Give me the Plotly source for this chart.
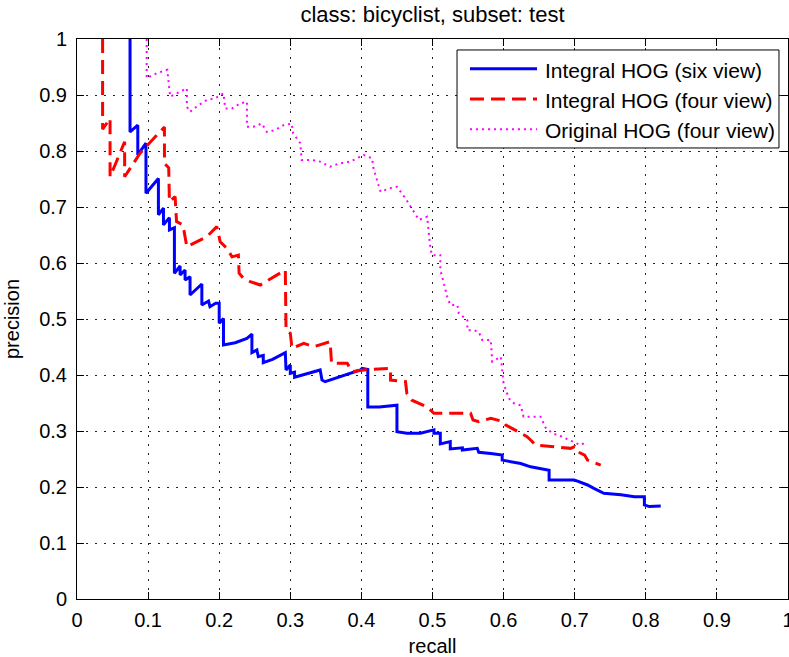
import plotly.graph_objects as go

# ---------------- data ----------------
six_recall = [0.0746, 0.0746, 0.0855, 0.0855, 0.097, 0.097, 0.1145, 0.1145, 0.1216, 0.1216,
              0.130, 0.130, 0.137, 0.137, 0.145, 0.145, 0.152, 0.152, 0.159, 0.159,
              0.1756, 0.1756, 0.185, 0.187, 0.195, 0.200, 0.200, 0.206, 0.206, 0.2225,
              0.239, 0.246, 0.246, 0.253, 0.255, 0.262, 0.262, 0.275, 0.293, 0.294,
              0.300, 0.300, 0.306, 0.306, 0.342, 0.3446, 0.349, 0.3986, 0.401, 0.409,
              0.409, 0.425, 0.450, 0.450, 0.464, 0.483, 0.502, 0.502, 0.511, 0.511,
              0.525, 0.525, 0.542, 0.542, 0.563, 0.565, 0.582, 0.598, 0.598, 0.624,
              0.638, 0.652, 0.664, 0.664, 0.699, 0.705, 0.718, 0.727, 0.741, 0.765,
              0.784, 0.798, 0.798, 0.805, 0.821]
six_precision = [1.000, 0.834, 0.846, 0.793, 0.814, 0.7245, 0.751, 0.686, 0.698, 0.668,
                 0.681, 0.659, 0.663, 0.5816, 0.5946, 0.5786, 0.5875, 0.5696, 0.5756, 0.5429,
                 0.5625, 0.525, 0.532, 0.522, 0.528, 0.528, 0.4923, 0.501, 0.4536, 0.4577,
                 0.4655, 0.473, 0.440, 0.4446, 0.4327, 0.435, 0.422, 0.428, 0.440, 0.409,
                 0.418, 0.403, 0.405, 0.396, 0.409, 0.391, 0.388, 0.409, 0.412, 0.410,
                 0.343, 0.343, 0.346, 0.2988, 0.296, 0.296, 0.302, 0.296, 0.296, 0.277,
                 0.281, 0.268, 0.270, 0.266, 0.269, 0.262, 0.260, 0.257, 0.248, 0.242,
                 0.236, 0.233, 0.230, 0.2125, 0.2125, 0.210, 0.2036, 0.1976, 0.1888, 0.186,
                 0.1827, 0.1827, 0.168, 0.165, 0.166]

four_recall = [0.036, 0.036, 0.0465, 0.0465, 0.0535, 0.058, 0.067, 0.067, 0.0887, 0.123,
               0.123, 0.129, 0.130, 0.138, 0.140, 0.149, 0.152, 0.1545, 0.1826, 0.1967,
               0.2014, 0.211, 0.218, 0.227, 0.228, 0.234, 0.2437, 0.2577, 0.293, 0.294,
               0.300, 0.3024, 0.319, 0.333, 0.356, 0.358, 0.380, 0.387, 0.4033, 0.441,
               0.441, 0.462, 0.464, 0.471, 0.4925, 0.502, 0.535, 0.5535, 0.557, 0.565,
               0.582, 0.600, 0.603, 0.612, 0.619, 0.633, 0.638, 0.645, 0.671, 0.694,
               0.700, 0.704, 0.714, 0.718, 0.7366]
four_precision = [1.000, 0.839, 0.858, 0.754, 0.775, 0.790, 0.8166, 0.754, 0.796, 0.843,
                  0.778, 0.770, 0.7095, 0.7185, 0.674, 0.668, 0.644, 0.629, 0.647, 0.665,
                  0.638, 0.626, 0.611, 0.614, 0.5816, 0.5726, 0.5667, 0.5607, 0.5875, 0.480,
                  0.4744, 0.4476, 0.4566, 0.4506, 0.4595, 0.421, 0.421, 0.406, 0.409, 0.412,
                  0.391, 0.388, 0.367, 0.355, 0.343, 0.3316, 0.3316, 0.3316, 0.3196, 0.3166,
                  0.3226, 0.3166, 0.3107, 0.3048, 0.2988, 0.290, 0.284, 0.275, 0.272, 0.269,
                  0.272, 0.263, 0.257, 0.248, 0.239]

orig_recall = [0.098, 0.098, 0.112, 0.127, 0.131, 0.145, 0.1545, 0.1545, 0.159, 0.171,
               0.1826, 0.194, 0.206, 0.2085, 0.218, 0.2296, 0.239, 0.239, 0.248, 0.260,
               0.267, 0.279, 0.2906, 0.302, 0.304, 0.314, 0.316, 0.3305, 0.342, 0.356,
               0.370, 0.3845, 0.394, 0.403, 0.415, 0.417, 0.427, 0.4385, 0.450, 0.462,
               0.4737, 0.481, 0.4925, 0.495, 0.497, 0.4995, 0.511, 0.511, 0.5207, 0.525,
               0.535, 0.537, 0.549, 0.549, 0.558, 0.565, 0.570, 0.582, 0.584, 0.596,
               0.598, 0.600, 0.6075, 0.6145, 0.624, 0.628, 0.652, 0.659, 0.6686, 0.680,
               0.699, 0.708, 0.713]
orig_precision = [1.000, 0.930, 0.9387, 0.945, 0.897, 0.906, 0.912, 0.879, 0.870, 0.882,
                  0.891, 0.894, 0.903, 0.876, 0.876, 0.885, 0.888, 0.8434, 0.8434, 0.849,
                  0.834, 0.8375, 0.846, 0.849, 0.8316, 0.814, 0.784, 0.784, 0.781, 0.772,
                  0.778, 0.781, 0.787, 0.793, 0.787, 0.769, 0.727, 0.733, 0.736, 0.7155,
                  0.6917, 0.677, 0.6827, 0.650, 0.626, 0.614, 0.614, 0.5875, 0.540, 0.525,
                  0.525, 0.510, 0.498, 0.480, 0.480, 0.477, 0.4625, 0.4625, 0.4238, 0.4327,
                  0.403, 0.385, 0.358, 0.3494, 0.346, 0.3256, 0.3256, 0.306, 0.296, 0.291,
                  0.280, 0.275, 0.278]

tick_vals = [0, 0.1, 0.2, 0.3, 0.4, 0.5, 0.6, 0.7, 0.8, 0.9, 1]
tick_text = ["0", "0.1", "0.2", "0.3", "0.4", "0.5", "0.6", "0.7", "0.8", "0.9", "1"]

series_names = ["Integral HOG (six view)", "Integral HOG (four view)", "Original HOG (four view)"]
series_colors = ["#0000FF", "#FF0000", "#FF00FF"]
series_dash = ["solid", "14px,7px", "2px,4px"]
series_width = [3, 3, 2]

title_text = "class: bicyclist, subset: test"
x_title = "recall"
y_title = "precision"

# ---------------- figure ----------------
FONT = "Liberation Sans, Arial, sans-serif"
fig = go.Figure()
for xs, ys, name, col, dash, w in zip(
        [six_recall, four_recall, orig_recall],
        [six_precision, four_precision, orig_precision],
        series_names, series_colors, series_dash, series_width):
    fig.add_trace(go.Scatter(x=xs, y=ys, mode="lines", name=name, showlegend=False,
                             line=dict(color=col, width=w, dash=dash),
                             cliponaxis=True))

axis_common = dict(
    range=[0, 1], tickvals=tick_vals, ticktext=tick_text, automargin=False,
    showgrid=True, gridcolor="#222222", gridwidth=1, griddash="2px,7px",
    zeroline=False, showline=True, linecolor="black", linewidth=1, mirror="ticks",
    ticks="inside", ticklen=7, tickcolor="black", tickwidth=1,
    tickfont=dict(family=FONT, size=20, color="black"),
)
fig.update_xaxes(**axis_common, ticklabelstandoff=3, ticklabeloverflow="allow",
                 title=dict(text=x_title, font=dict(family=FONT, size=20, color="black"), standoff=9))
fig.update_yaxes(**axis_common, ticklabelstandoff=5,
                 title=dict(text=y_title, font=dict(family=FONT, size=20, color="black"), standoff=14))

# legend (drawn manually to match the original box geometry)
shapes = [dict(type="rect", xref="paper", yref="paper", x0=0.5345, x1=0.9873, y0=0.8054, y1=0.9804,
               fillcolor="white", line=dict(color="black", width=1), layer="above")]
annotations = []
rows_line = [0.947, 0.893, 0.839]
rows_text = [0.9446, 0.891, 0.8375]
for name, col, dash, w, yl, yt in zip(series_names, series_colors, series_dash, series_width,
                                       rows_line, rows_text):
    shapes.append(dict(type="line", xref="paper", yref="paper", x0=0.5527, x1=0.647, y0=yl, y1=yl,
                       line=dict(color=col, width=w, dash=dash), layer="above"))
    annotations.append(dict(xref="paper", yref="paper", x=0.6554, y=yt, text=name, showarrow=False,
                            xanchor="left", yanchor="middle",
                            font=dict(family=FONT, size=21, color="black")))

fig.update_layout(
    width=789, height=657,
    margin=dict(l=77, r=1, t=39, b=58, autoexpand=False),
    paper_bgcolor="white", plot_bgcolor="white",
    title=dict(text=title_text, x=0.5, xref="paper", y=1 - 14 / 657, yref="container",
               xanchor="center", yanchor="middle",
               font=dict(family=FONT, size=22, color="black")),
    shapes=shapes, annotations=annotations,
)

fig.write_html("out.html")
